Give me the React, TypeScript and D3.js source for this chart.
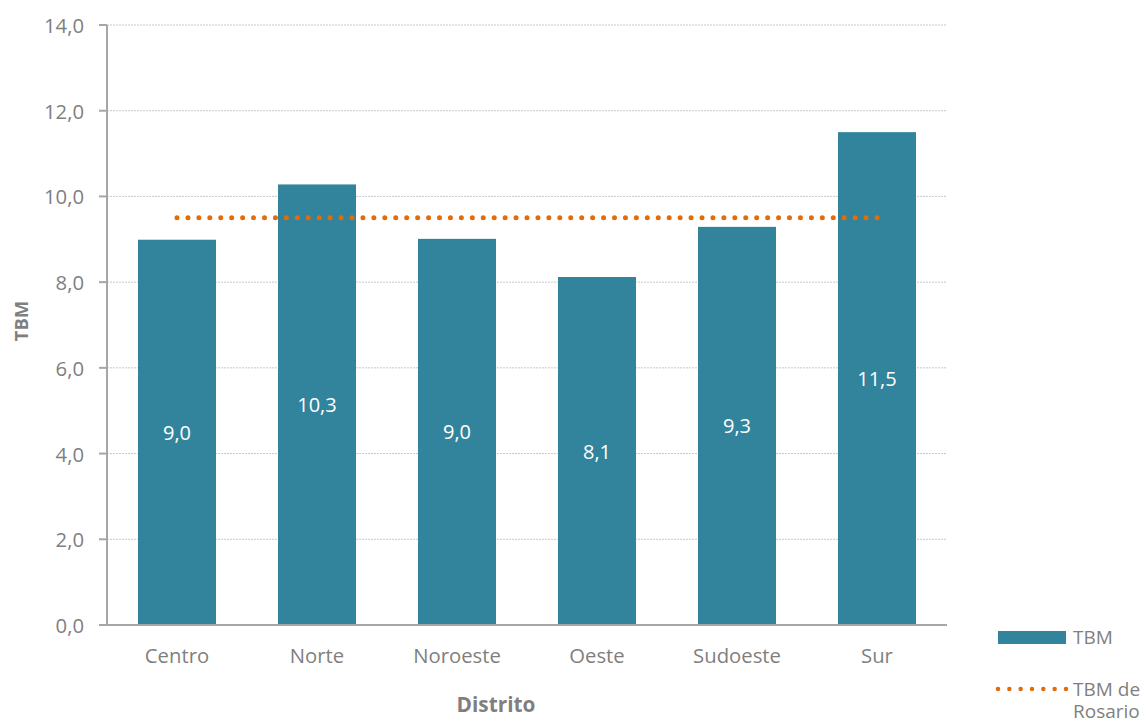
import React from "react";
import * as d3 from "d3";

const categories = ["Centro", "Norte", "Noroeste", "Oeste", "Sudoeste", "Sur"];
const tbmValues = [8.99, 10.28, 9.01, 8.12, 9.29, 11.5];
const rosarioValue = 9.5;
const yTicks = [0, 2, 4, 6, 8, 10, 12, 14];

const W = 1145;
const H = 722;
const FONT = "'Open Sans', 'Noto Sans', sans-serif";
const BAR = "#31849b";
const ORANGE = "#e36c09";
const TEXT = "#7f7f7f";

export default function App() {
  const x = d3.scaleBand<string>().domain(categories).range([107, 947]).paddingInner(0.443).paddingOuter(0.2215);
  const y = d3.scaleLinear().domain([0, 14]).range([625, 25]);
  const fmt = (v: number) => v.toFixed(1).replace(".", ",");
  const bw = x.bandwidth();
  const x0 = (x(categories[0]) as number) + bw / 2;
  const x1 = (x(categories[categories.length - 1]) as number) + bw / 2;
  const dotGap = (x1 - x0) / Math.round((x1 - x0) / 11);

  return (
    <svg width={W} height={H} style={{ position: "absolute", left: 0, top: 0, fontFamily: FONT }}>
      <rect width={W} height={H} fill="#fff" />
      {yTicks.map((t) => (
        <g key={t}>
          {t > 0 && (
            <line x1={107} x2={947} y1={y(t)} y2={y(t)} stroke="#c8c8c8" strokeWidth={1} strokeDasharray="2,1" />
          )}
          <line x1={99} x2={107} y1={y(t)} y2={y(t)} stroke="#a6a6a6" strokeWidth={2} />
          <text x={84} y={y(t)} textAnchor="end" dominantBaseline="central" fontSize={20.3} fill={TEXT}>
            {fmt(t)}
          </text>
        </g>
      ))}
      {categories.map((c, i) => (
        <g key={c}>
          <rect x={x(c)} y={y(tbmValues[i])} width={bw} height={y(0) - y(tbmValues[i])} fill={BAR} />
          <text
            x={(x(c) as number) + bw / 2}
            y={(y(tbmValues[i]) + y(0)) / 2}
            textAnchor="middle"
            dominantBaseline="central"
            fontSize={20}
            fill="#fff"
          >
            {fmt(tbmValues[i])}
          </text>
          <text x={(x(c) as number) + bw / 2} y={655} textAnchor="middle" dominantBaseline="central" fontSize={20.3} fill={TEXT}>
            {c}
          </text>
        </g>
      ))}
      <line x1={107} x2={107} y1={25} y2={626} stroke="#a6a6a6" strokeWidth={2} />
      <line x1={106} x2={947} y1={625} y2={625} stroke="#a6a6a6" strokeWidth={2} />
      <line
        x1={x0}
        x2={x1 + 0.5}
        y1={y(rosarioValue)}
        y2={y(rosarioValue)}
        stroke={ORANGE}
        strokeWidth={5}
        strokeLinecap="round"
        strokeDasharray={`0,${dotGap}`}
      />
      <text
        transform={`translate(20,321) rotate(-90)`}
        textAnchor="middle"
        dominantBaseline="central"
        fontSize={18.5}
        fontWeight="bold"
        fill={TEXT}
      >
        TBM
      </text>
      <text x={496} y={704} textAnchor="middle" dominantBaseline="central" fontSize={20.8} fontWeight="bold" fill={TEXT}>
        Distrito
      </text>
      <rect x={998} y={631} width={68} height={13} fill={BAR} />
      <text x={1073} y={637} dominantBaseline="central" fontSize={19} fill={TEXT}>
        TBM
      </text>
      <line x1={998} x2={1066.5} y1={689} y2={689} stroke={ORANGE} strokeWidth={4.5} strokeLinecap="round" strokeDasharray="0,11.33" />
      <text x={1073} y={689} dominantBaseline="central" fontSize={19} fill={TEXT}>
        TBM de
      </text>
      <text x={1073} y={711} dominantBaseline="central" fontSize={19} fill={TEXT}>
        Rosario
      </text>
    </svg>
  );
}
